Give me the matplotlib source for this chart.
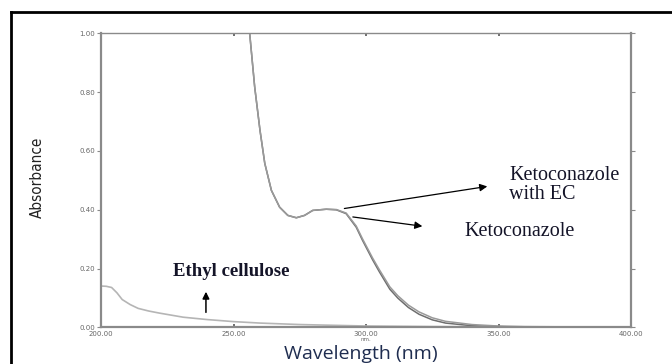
import matplotlib
matplotlib.use("Agg")
import matplotlib.pyplot as plt
from matplotlib.lines import Line2D

# values
keto_nm = [254.0, 256.1, 258.0, 260.0, 261.8, 264.3, 267.4, 270.5, 273.7, 276.8, 279.9,
           285.0, 288.8, 292.5, 296.3, 298.7, 302.5, 305.0, 309.0, 312.0, 316.0, 320.0,
           325.0, 330.0, 340.0, 350.0, 360.0, 380.0, 400.0]
keto_abs = [1.10, 1.00, 0.817, 0.67, 0.558, 0.466, 0.409, 0.381, 0.373, 0.381, 0.398,
            0.402, 0.400, 0.387, 0.341, 0.296, 0.230, 0.190, 0.130, 0.100, 0.068, 0.045,
            0.026, 0.015, 0.006, 0.003, 0.001, 0.000, 0.000]
keto_ec_abs = [1.10, 1.00, 0.817, 0.67, 0.558, 0.466, 0.409, 0.381, 0.373, 0.381, 0.398,
               0.402, 0.401, 0.389, 0.345, 0.301, 0.236, 0.197, 0.138, 0.108, 0.076, 0.053,
               0.033, 0.021, 0.010, 0.005, 0.003, 0.002, 0.002]

ec_nm = [200.0, 202.0, 204.0, 206.0, 208.0, 211.0, 214.0, 218.0, 222.0, 231.0, 240.0,
         250.0, 260.0, 275.0, 300.0, 325.0, 350.0, 400.0]
ec_abs = [0.141, 0.140, 0.136, 0.118, 0.095, 0.078, 0.065, 0.056, 0.049, 0.035, 0.027,
          0.020, 0.015, 0.010, 0.005, 0.003, 0.002, 0.001]

x_ticks = [200, 250, 300, 350, 400]
y_ticks = [0.0, 0.2, 0.4, 0.6, 0.8, 1.0]

fig = plt.figure(figsize=(6.72, 3.64), dpi=100)
ax = fig.add_axes([0.1503, 0.1003, 0.7887, 0.8082])

line_col = "#8a8a8a"
ax.plot(ec_nm, ec_abs, color="#b5b5b5", lw=1.2)
ax.plot(keto_nm, keto_abs, color="#6e6e6e", lw=1.1)
ax.plot(keto_nm, keto_ec_abs, color="#9a9a9a", lw=1.1)

ax.set_xlim(200, 400)
ax.set_ylim(0, 1)
ax.set_xticks(x_ticks)
ax.set_xticklabels([f"{v:.2f}" for v in x_ticks])
ax.set_yticks(y_ticks)
ax.set_yticklabels([f"{v:.2f}" for v in y_ticks])
for side, sp in ax.spines.items():
    sp.set_color(line_col)
    sp.set_linewidth(1.0 if side == "top" else 1.6)
ax.tick_params(axis="y", direction="out", length=3, width=0.8, colors=line_col,
               labelcolor="#666666", labelsize=5, pad=1.5, right=True)
ax.tick_params(axis="x", direction="in", length=2, width=1.2, colors="#555555",
               labelcolor="#666666", labelsize=5, pad=2.5, top=True)
ax.text(300, -0.034, "nm.", ha="center", va="top", fontsize=4, color="#666666")

fig.text(37 / 672, 1 - 177 / 364, "Absorbance", rotation=90, ha="center", va="center",
         fontsize=11, stretch="condensed",
         family=["Liberation Sans Narrow", "DejaVu Sans"], color="#222222")
fig.text(361 / 672, 1 / 364, "Wavelength (nm)", ha="center", va="bottom",
         fontsize=14, family="Open Sans", color="#1f2d50")

serif = "Liberation Serif"
txt_col = "#141428"
ax.annotate("", xy=(346.8, 0.481), xytext=(290.8, 0.403),
            arrowprops=dict(arrowstyle="-|>", color="black", lw=0.9, mutation_scale=11))
ax.text(354, 0.486, "Ketoconazole\nwith EC", fontsize=14.5, family=serif, color=txt_col,
        va="center", ha="left", linespacing=1.0)
ax.annotate("", xy=(322.3, 0.343), xytext=(294.0, 0.377),
            arrowprops=dict(arrowstyle="-|>", color="black", lw=0.9, mutation_scale=11))
ax.text(337, 0.325, "Ketoconazole", fontsize=14.5, family=serif, color=txt_col,
        va="center", ha="left")
ax.annotate("", xy=(239.6, 0.131), xytext=(239.6, 0.042),
            arrowprops=dict(arrowstyle="-|>", color="black", lw=1.1, mutation_scale=10))
ax.text(227, 0.192, "Ethyl cellulose", fontsize=13.5, family=serif, fontweight="bold",
        color=txt_col, va="center", ha="left")

# outer frame (only top and left edges are inside the image)
fig.add_artist(Line2D([11 / 672, 1.0], [1 - 12 / 364, 1 - 12 / 364], color="black", lw=2))
fig.add_artist(Line2D([11 / 672, 11 / 672], [0.0, 1 - 12 / 364], color="black", lw=2))

fig.savefig("out.png", dpi=100)
